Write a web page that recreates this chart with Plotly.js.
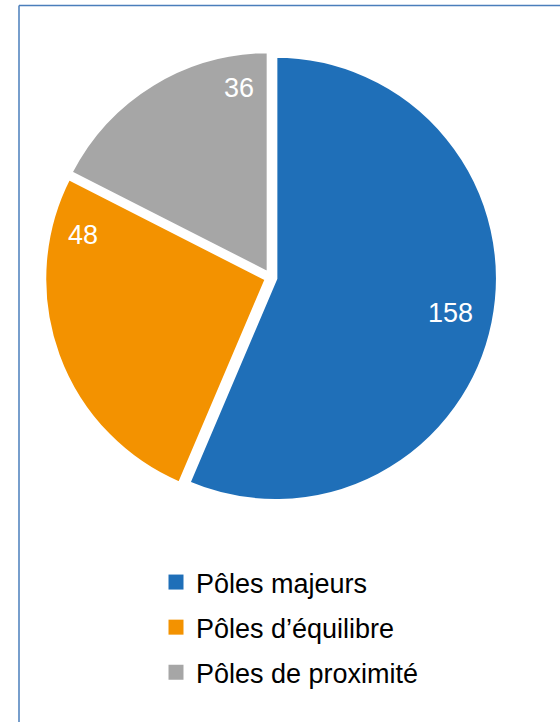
<!DOCTYPE html>
<html>
<head>
<meta charset="utf-8">
<script src="https://cdn.plot.ly/plotly-3.0.1.min.js"></script>
<style>html,body{margin:0;padding:0;background:#fff;}#chart{width:560px;height:722px;}</style>
</head>
<body>
<div id="chart"></div>
<script>
const labels = ["Pôles majeurs", "Pôles d’équilibre", "Pôles de proximité"];
// slice sizes (percent of the disc)
const sliceShares = [56.4, 26.1, 17.5];
// numbers printed on the slices
const valueLabels = [158, 48, 36];
const colors = ["#1F6FB8", "#F39200", "#A6A6A6"];
// label anchor positions (paper coords) for the value labels
const labelPos = [[0.805, 0.567], [0.148, 0.675], [0.426, 0.878]];

const W = 560, H = 722;
const FONT = "Liberation Sans, Arial, sans-serif";

const pie = {
  type: "pie",
  labels: labels,
  values: sliceShares,
  sort: false,
  direction: "clockwise",
  rotation: 0,
  pull: [0.02, 0.02, 0.02],
  marker: {colors: colors, line: {color: "#ffffff", width: 4}},
  textinfo: "none",
  hoverinfo: "label",
  showlegend: false,
  domain: {x: [44 / W, 498 / W], y: [1 - 504.5 / H, 1 - 50.5 / H]}
};

// legend entries (no data drawn, only the keys)
const legendTraces = labels.map((lab, i) => ({
  type: "scatter", mode: "markers",
  x: [null], y: [null],
  name: lab,
  legendgroup: "g" + i,
  marker: {symbol: "square", size: 15, color: colors[i]},
  hoverinfo: "skip"
}));

const annotations = valueLabels.map((v, i) => ({
  xref: "paper", yref: "paper",
  x: labelPos[i][0], y: labelPos[i][1],
  text: String(v), showarrow: false,
  xanchor: "center", yanchor: "middle",
  font: {family: FONT, size: 27, color: "#ffffff"}
}));

const layout = {
  width: W, height: H,
  margin: {l: 0, r: 0, t: 0, b: 0},
  paper_bgcolor: "#ffffff",
  plot_bgcolor: "#ffffff",
  xaxis: {visible: false},
  yaxis: {visible: false},
  showlegend: true,
  legend: {
    x: 156 / W, xanchor: "left",
    y: 1 - 558 / H, yanchor: "top",
    font: {family: FONT, size: 27, color: "#000000"},
    traceorder: "grouped",
    tracegroupgap: 7,
    bgcolor: "rgba(0,0,0,0)"
  },
  annotations: annotations,
  shapes: [
    {type: "line", xref: "paper", yref: "paper", x0: 19 / W, x1: 1, y0: 1 - 5.5 / H, y1: 1 - 5.5 / H, line: {color: "#4A7EBB", width: 1.5}},
    {type: "line", xref: "paper", yref: "paper", x0: 19 / W, x1: 19 / W, y0: 0, y1: 1 - 5.5 / H, line: {color: "#4A7EBB", width: 1.5}}
  ]
};

Plotly.newPlot("chart", legendTraces.concat([pie]), layout, {displayModeBar: false, staticPlot: true});
</script>
</body>
</html>
